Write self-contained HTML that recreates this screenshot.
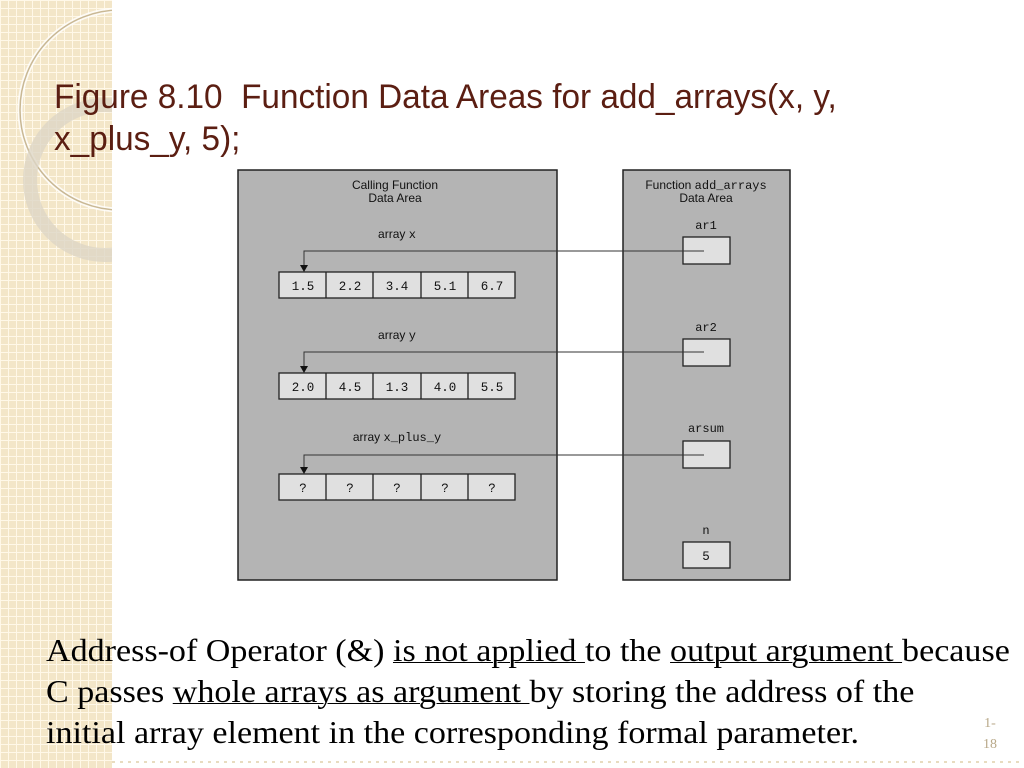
<!DOCTYPE html>
<html><head><style>
body{margin:0;width:1024px;height:768px;position:relative;overflow:hidden;background:#fff;font-family:"Liberation Sans",sans-serif}
.side{position:absolute;left:0;top:0;width:112px;height:768px;background-color:#f3e6c8;
background-image:linear-gradient(#fff8e8 1px,transparent 1px),linear-gradient(90deg,#fff8e8 1px,transparent 1px);background-size:8px 8px}
.title{position:absolute;left:54px;top:76px;font-size:34px;color:#5b1e12;line-height:42px;transform-origin:0 0;transform:scaleX(0.98)}
.body{position:absolute;left:46px;top:630px;font-family:"Liberation Serif",serif;font-size:32px;line-height:41px;color:#000;white-space:nowrap;transform-origin:0 0;transform:scaleX(1.064)}
u{text-decoration-thickness:1px}
</style></head><body>
<div class="side"></div>
<svg style="position:absolute;left:0;top:0" width="1024" height="768">
<circle cx="120" cy="110" r="100" fill="none" stroke="#fff" stroke-width="5" opacity="0.8"/>
<circle cx="120" cy="110" r="100" fill="none" stroke="#c9b894" stroke-width="1.5"/>
<circle cx="105" cy="180" r="75" fill="none" stroke="#ddd6c6" stroke-width="14" opacity="0.8"/>
<rect x="112" y="0" width="912" height="768" fill="#fff"/>
<line x1="112" y1="762" x2="1024" y2="762" stroke="#e8dcc0" stroke-width="2" stroke-dasharray="3,5"/>
<g stroke="#222" stroke-width="1.5">
<rect x="238" y="170" width="319" height="410" fill="#b4b4b4"/>
<rect x="623" y="170" width="167" height="410" fill="#b4b4b4"/>
</g>
<g font-family="Liberation Sans" font-size="12" text-anchor="middle" fill="#111">
<text x="395" y="189">Calling Function</text><text x="395" y="202">Data Area</text>
<text x="706" y="189">Function <tspan font-family="Liberation Mono">add_arrays</tspan></text><text x="706" y="202">Data Area</text>
<text x="397" y="238">array <tspan font-family="Liberation Mono">x</tspan></text>
<text x="397" y="339">array <tspan font-family="Liberation Mono">y</tspan></text>
<text x="397" y="441">array <tspan font-family="Liberation Mono">x_plus_y</tspan></text>
</g>
<g font-family="Liberation Mono" font-size="12" text-anchor="middle" fill="#111">
<text x="706" y="229">ar1</text><text x="706" y="331">ar2</text><text x="706" y="432">arsum</text><text x="706" y="534">n</text>
</g>
<g stroke="#222" stroke-width="1.3" fill="#e0e0e0">
<rect x="279" y="272" width="236" height="26"/><rect x="279" y="373" width="236" height="26"/><rect x="279" y="474" width="236" height="26"/>
<path d="M326 272v26M373 272v26M421 272v26M468 272v26M326 373v26M373 373v26M421 373v26M468 373v26M326 474v26M373 474v26M421 474v26M468 474v26"/>
<rect x="683" y="237" width="47" height="27"/><rect x="683" y="339" width="47" height="27"/><rect x="683" y="441" width="47" height="27"/><rect x="683" y="542" width="47" height="26"/>
</g>
<g stroke="#333" stroke-width="1" fill="none">
<path d="M704 251H304V268"/><path d="M704 352H304V369"/><path d="M704 455H304V470"/>
</g>
<g fill="#111"><path d="M300 265h8l-4 7z"/><path d="M300 366h8l-4 7z"/><path d="M300 467h8l-4 7z"/></g>
<g font-family="Liberation Mono" font-size="12.5" text-anchor="middle" fill="#111">
<text x="303" y="290">1.5</text><text x="350" y="290">2.2</text><text x="397" y="290">3.4</text><text x="445" y="290">5.1</text><text x="492" y="290">6.7</text>
<text x="303" y="391">2.0</text><text x="350" y="391">4.5</text><text x="397" y="391">1.3</text><text x="445" y="391">4.0</text><text x="492" y="391">5.5</text>
<text x="303" y="492">?</text><text x="350" y="492">?</text><text x="397" y="492">?</text><text x="445" y="492">?</text><text x="492" y="492">?</text>
<text x="706" y="560">5</text>
</g>
<g font-family="Liberation Serif" font-size="14" fill="#b8a888" text-anchor="middle"><text x="990" y="727">1-</text><text x="990" y="748">18</text></g>
</svg>
<div class="title">Figure 8.10&nbsp; Function Data Areas for add_arrays(x, y,<br>x_plus_y, 5);</div>
<div class="body">Address-of Operator (&amp;) <u>is not applied </u>to the <u>output argument </u>because<br>C passes <u>whole arrays as argument </u>by storing the address of the<br>initial array element in the corresponding formal parameter.</div>
</body></html>
